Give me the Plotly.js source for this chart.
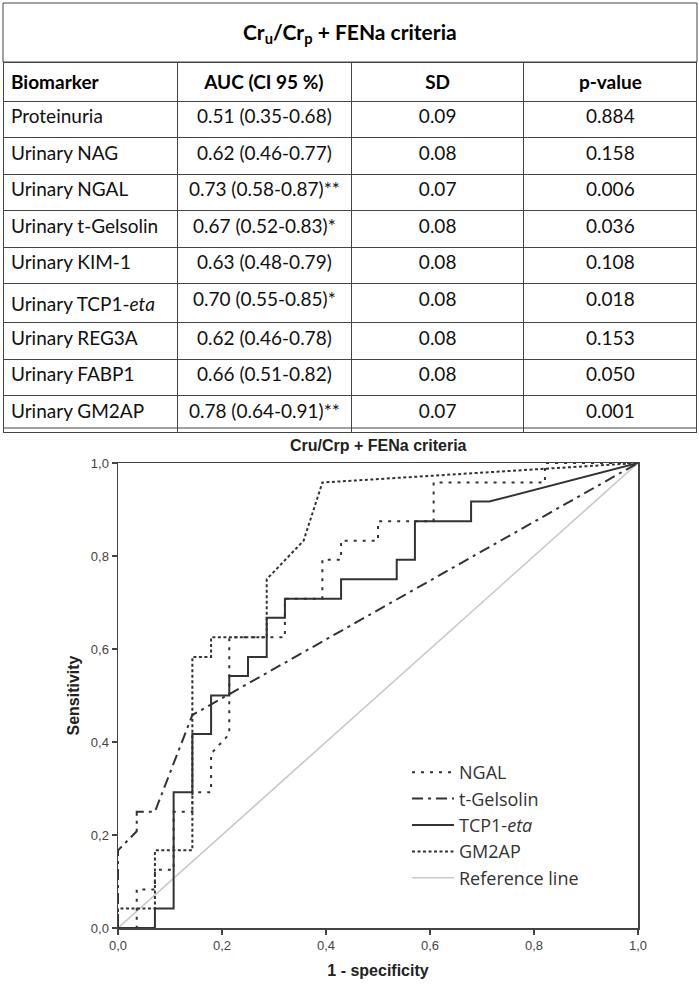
<!DOCTYPE html>
<html>
<head>
<meta charset="utf-8">
<script src="https://cdn.plot.ly/plotly-3.0.1.min.js"></script>
<style>html,body{margin:0;padding:0;background:#fff;}#chart{width:699px;height:992px;}</style>
</head>
<body>
<div id="chart"></div>
<script>
// ---- Table data ----
const tableTitle = "<b>Cr<sub>u</sub>/Cr<sub>p</sub> + FENa criteria</b>";
const tableHeader = ["<b>Biomarker</b>", "<b>AUC (CI 95 %)</b>", "<b>SD</b>", "<b>p-value</b>"];
const biomarkers = ["Proteinuria", "Urinary NAG", "Urinary NGAL", "Urinary t-Gelsolin", "Urinary KIM-1",
  "Urinary TCP1-<i>eta</i>", "Urinary REG3A", "Urinary FABP1", "Urinary GM2AP"];
const aucCI = ["0.51 (0.35-0.68)", "0.62 (0.46-0.77)", "0.73 (0.58-0.87)**", "0.67 (0.52-0.83)*",
  "0.63 (0.48-0.79)", "0.70 (0.55-0.85)*", "0.62 (0.46-0.78)", "0.66 (0.51-0.82)", "0.78 (0.64-0.91)**"];
const sdVals = ["0.09", "0.08", "0.07", "0.08", "0.08", "0.08", "0.08", "0.08", "0.07"];
const pVals = ["0.884", "0.158", "0.006", "0.036", "0.108", "0.018", "0.153", "0.050", "0.001"];

// ---- ROC curve data (1 - specificity, sensitivity) ----
const fprNGAL = [0, 0.036, 0.036, 0.071, 0.071, 0.107, 0.107, 0.143, 0.143, 0.179, 0.179, 0.214, 0.214, 0.321, 0.321, 0.393, 0.393, 0.429, 0.429, 0.5, 0.5, 0.607, 0.607, 0.821, 0.821, 1];
const tprNGAL = [0, 0, 0.083, 0.083, 0.125, 0.125, 0.25, 0.25, 0.292, 0.292, 0.375, 0.417, 0.625, 0.625, 0.708, 0.708, 0.792, 0.792, 0.833, 0.833, 0.875, 0.875, 0.958, 0.958, 1, 1];
const fprGel = [0, 0, 0.036, 0.036, 0.071, 0.143, 1];
const tprGel = [0, 0.167, 0.208, 0.25, 0.25, 0.458, 1];
const fprTCP = [0, 0.071, 0.071, 0.107, 0.107, 0.143, 0.143, 0.179, 0.179, 0.214, 0.214, 0.25, 0.25, 0.286, 0.286, 0.321, 0.321, 0.429, 0.429, 0.536, 0.536, 0.571, 0.571, 0.679, 0.679, 0.714, 1];
const tprTCP = [0, 0, 0.042, 0.042, 0.292, 0.292, 0.417, 0.417, 0.5, 0.5, 0.542, 0.542, 0.583, 0.583, 0.667, 0.667, 0.708, 0.708, 0.75, 0.75, 0.792, 0.792, 0.875, 0.875, 0.917, 0.917, 1];
const fprGM2 = [0, 0, 0.071, 0.071, 0.143, 0.143, 0.179, 0.179, 0.286, 0.286, 0.357, 0.393, 1];
const tprGM2 = [0, 0.042, 0.042, 0.167, 0.167, 0.583, 0.583, 0.625, 0.625, 0.75, 0.833, 0.958, 1];
const fprRef = [0, 1];
const tprRef = [0, 1];

const seriesNames = ["NGAL", "t-Gelsolin", "TCP1-<i>eta</i>", "GM2AP", "Reference line"];
const tickVals = [0, 0.2, 0.4, 0.6, 0.8, 1.0];
const tickText = ["0,0", "0,2", "0,4", "0,6", "0,8", "1,0"];

// ---- geometry helpers (figure px -> paper fraction) ----
const W = 699, H = 992;
const px = v => v / W;
const py = v => 1 - v / H;

const tableLeft = 3, tableRight = 697, tableTop = 3, titleRowBottom = 62, tableBottom = 427;
const rowH = (tableBottom - titleRowBottom) / 10;

const plotL = 118, plotR = 638, plotT = 463, plotB = 928;
const lineCol = "#333333";

const traces = [
  {type: "scatter", mode: "lines", x: fprRef, y: tprRef, name: seriesNames[4], legendrank: 5,
   line: {color: "#c9c9c9", width: 1.6}, hoverinfo: "skip"},
  {type: "scatter", mode: "lines", x: fprGel, y: tprGel, name: seriesNames[1], legendrank: 2,
   line: {color: lineCol, width: 2, dash: "11px,5px,3px,5px"}},
  {type: "scatter", mode: "lines", x: fprTCP, y: tprTCP, name: seriesNames[2], legendrank: 3,
   line: {color: lineCol, width: 2}},
  {type: "scatter", mode: "lines", x: fprNGAL, y: tprNGAL, name: seriesNames[0], legendrank: 1,
   line: {color: lineCol, width: 2, dash: "3px,6px"}},
  {type: "scatter", mode: "lines", x: fprGM2, y: tprGM2, name: seriesNames[3], legendrank: 4,
   line: {color: lineCol, width: 2, dash: "3px,2.5px"}},
  {type: "table",
   domain: {x: [px(tableLeft), px(tableRight)], y: [py(tableBottom + 6), py(titleRowBottom)]},
   columnwidth: [175, 175, 173, 174],
   header: {values: tableHeader, align: ["left", "center", "center", "center"], height: rowH,
     line: {color: "#444", width: 1}, fill: {color: "#fff"},
     font: {family: "Lato, sans-serif", size: 19, color: "#000"}},
   cells: {values: [biomarkers, aucCI, sdVals, pVals], align: ["left", "center", "center", "center"], height: rowH,
     line: {color: "#444", width: 1}, fill: {color: "#fff"},
     font: {family: "Lato, sans-serif", size: 19, color: "#111"}}
  }
];

const layout = {
  width: W, height: H,
  margin: {l: 0, r: 0, t: 0, b: 0},
  paper_bgcolor: "#fff", plot_bgcolor: "#fff",
  showlegend: true,
  font: {family: "Liberation Sans, Arial, sans-serif", color: "#333"},
  xaxis: {domain: [px(plotL), px(plotR)], range: [0, 1], tickvals: tickVals, ticktext: tickText,
    ticks: "outside", ticklen: 5, tickwidth: 1.5, tickcolor: "#444",
    showline: true, mirror: true, linecolor: "#444", linewidth: 1.5,
    showgrid: false, zeroline: false, fixedrange: true,
    tickfont: {size: 13, color: "#444"},
    title: {text: "<b>1 - specificity</b>", font: {size: 16, color: "#222"}, standoff: 12}},
  yaxis: {domain: [py(plotB), py(plotT)], range: [0, 1], tickvals: tickVals, ticktext: tickText,
    ticks: "outside", ticklen: 5, tickwidth: 1.5, tickcolor: "#444",
    showline: true, mirror: true, linecolor: "#444", linewidth: 1.5,
    showgrid: false, zeroline: false, fixedrange: true,
    tickfont: {size: 13, color: "#444"},
    title: {text: "<b>Sensitivity</b>", font: {size: 16, color: "#222"}, standoff: 7}},
  legend: {x: px(407), y: py(754), xanchor: "left", yanchor: "top", bgcolor: "rgba(255,255,255,0)",
    itemwidth: 42, font: {family: "Open Sans, sans-serif", size: 18, color: "#333"}, tracegroupgap: 0},
  shapes: [
    {type: "rect", xref: "paper", yref: "paper", x0: px(tableLeft), x1: px(tableRight),
     y0: py(titleRowBottom), y1: py(tableTop), line: {color: "#444", width: 1}, layer: "above"},
    {type: "line", xref: "paper", yref: "paper", x0: px(tableLeft), x1: px(tableRight),
     y0: py(tableBottom + 1), y1: py(tableBottom + 1), line: {color: "#444", width: 1.2}, layer: "above"}
  ],
  annotations: [
    {xref: "paper", yref: "paper", x: px((tableLeft + tableRight) / 2), y: py(33), yanchor: "middle",
     text: tableTitle, showarrow: false, font: {family: "Lato, sans-serif", size: 21, color: "#000"}},
    {xref: "paper", yref: "paper", x: px((plotL + plotR) / 2), y: py(445), yanchor: "middle",
     text: "<b>Cru/Crp + FENa criteria</b>", showarrow: false,
     font: {family: "Liberation Sans, Arial, sans-serif", size: 16, color: "#222"}}
  ]
};

Plotly.newPlot("chart", traces, layout, {staticPlot: true, displayModeBar: false});
</script>
</body>
</html>
